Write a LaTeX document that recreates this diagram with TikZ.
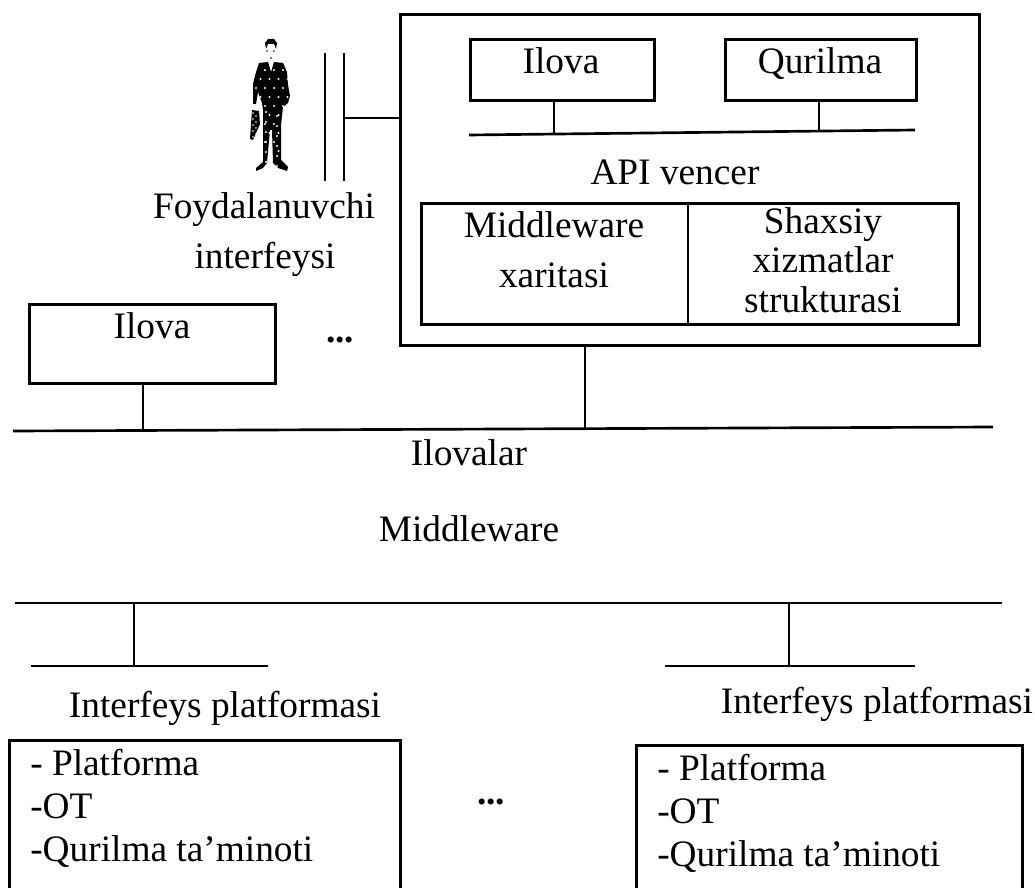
\documentclass[tikz,border=0pt]{standalone}
\usepackage{fontspec}
\setmainfont{Liberation Serif}
\tikzset{
	box/.style={draw, line width=2.2pt, inner sep=0pt, anchor=north west},
	wire/.style={line width=2pt},
	txt/.style={inner sep=0pt, anchor=base, align=center, font=\fontsize{28}{29.5}\selectfont},
	listing/.style={inner sep=0pt, anchor=base west, align=left, font=\fontsize{28}{32.25}\selectfont},
}
\begin{document}
\begin{tikzpicture}[x=.75pt,y=-.75pt]
		\useasboundingbox (0,0) rectangle (1035,888);
		% boxes
		\node[box, minimum width=434.25pt, minimum height=248.25pt] (server) at (399,13) {};
		\node[box, minimum width=138pt, minimum height=45.75pt] (app) at (469,38) {};
		\node[box, minimum width=143.25pt, minimum height=45.75pt] (device) at (724,38) {};
		\node[box, minimum width=402.75pt, minimum height=90.75pt] (map) at (420,202) {};
		\node[box, minimum width=184.5pt, minimum height=59.25pt] (app2) at (28,303) {};
		\node[box, minimum width=293.25pt, minimum height=114.75pt] (plat1) at (8,739) {};
		\node[box, minimum width=289.5pt, minimum height=111pt] (plat2) at (635,744) {};
		% texts
		\node[txt] (appt) at (561,74) {Ilova};
		\node[txt] (devicet) at (820,74) {Qurilma};
		\node[txt] (api) at (675,185) {API vencer};
		\node[txt] (mid1) at (554,238) {Middleware};
		\node[txt] (mid2) at (554,287) {xaritasi};
		\node[txt] (pers) at (823,312) {Shaxsiy\\xizmatlar\\strukturasi};
		\node[txt] (user1) at (264,219) {Foydalanuvchi};
		\node[txt] (user2) at (265,268) {interfeysi};
		\node[txt] (app2t) at (152,338) {Ilova};
		\node[txt] (apps) at (469,465) {Ilovalar};
		\node[txt] (midw) at (469,541) {Middleware};
		\node[txt] (if1) at (225,717) {Interfeys platformasi};
		\node[txt] (if2) at (877,713) {Interfeys platformasi};
		\node[listing] (list1) at (30,861) {- Platforma\\-OT\\-Qurilma ta’minoti};
		\node[listing] (list2) at (657,866) {- Platforma\\-OT\\-Qurilma ta’minoti};
		\node[txt] (dots1) at (340,342) {\textbf{...}};
		\node[txt] (dots2) at (491,804) {\textbf{...}};
		% buses
		\coordinate (s1) at (469,135);
		\coordinate (s2) at (915,130);
		\coordinate (b1) at (13,431);
		\coordinate (b2) at (993,427);
		\coordinate (m1) at (15,603);
		\coordinate (m2) at (1002,603);
		\coordinate (l1) at (31,666);
		\coordinate (l2) at (268,666);
		\coordinate (r1) at (665,666);
		\coordinate (r2) at (915,666);
		\draw[wire] (s1) -- (s2);
		\draw[wire] (b1) -- (b2);
		\draw[wire] (m1) -- (m2);
		\draw[wire] (l1) -- (l2);
		\draw[wire] (r1) -- (r2);
		% stubs
		\coordinate (k1) at (554,133);
		\coordinate (k2) at (819,131);
		\coordinate (k3) at (143,430);
		\coordinate (k4) at (585,429);
		\coordinate (k5) at (134,666);
		\coordinate (k6) at (789,666);
		\draw[wire] (k1 |- app.south) -- (k1);
		\draw[wire] (k2 |- device.south) -- (k2);
		\draw[wire] (k3 |- app2.south) -- (k3);
		\draw[wire] (k4 |- server.south) -- (k4);
		\draw[wire] (k5 |- m1) -- (k5);
		\draw[wire] (k6 |- m1) -- (k6);
		\coordinate (d) at (688,0);
		\draw[box] (d |- map.north) -- (d |- map.south);
		% interface bars
		\coordinate (i1) at (325,53);
		\coordinate (i2) at (325,181);
		\coordinate (i3) at (344,53);
		\coordinate (i4) at (344,181);
		\coordinate (i5) at (344,118);
		\draw[wire] (i1) -- (i2);
		\draw[wire] (i3) -- (i4);
		\draw[wire] (i5) -- (server.west |- i5);
		% person
		\begin{scope}
			\fill (266,49) -- (265,43) -- (268,39) -- (274,39) -- (277,43) -- (276,49) -- (274,44) -- (268,44) -- cycle;
			\fill (267,51) circle (.9) (274,51) circle (.9) (271,58) circle (.9);
			\path[clip] (259,63) -- (268,62) -- (271,72) -- (274,62) -- (283,63) -- (287,72) -- (288,85) -- (290,96) -- (288,103) -- (283,107) -- (281,125) -- (281,160) -- (288,167) -- (287,171) -- (278,168) -- (273,163) -- (272,130) -- (270,130) -- (267,163) -- (263,168) -- (256,171) -- (256,168) -- (263,162) -- (263,110) -- (262,103) -- (258,92) -- (256,104) -- (253,104) -- (253,84) -- (256,72) -- cycle;
			\fill (250,60) rectangle (295,175);
			\foreach \i in {0,...,9}
				\foreach \j in {0,...,4}
					\fill[white] ({256+\j*9+mod(\i,2)*4.5},{70+\i*9}) circle (1.2);
			\foreach \i in {0,...,5}
				\fill[white] (266,{112+\i*10}) circle (1.2) (277,{116+\i*10}) circle (1.2);
		\end{scope}
		\begin{scope}
			\path[clip] (252,110) -- (259,111) -- (260,124) -- (253,140) -- (250,139) -- cycle;
			\fill (249,109) rectangle (262,141);
			\foreach \i in {0,...,9}
				\fill[white] ({253+mod(\i,2)*3},{113+\i*3}) circle (.9);
		\end{scope}
	\end{tikzpicture}
\end{document}
